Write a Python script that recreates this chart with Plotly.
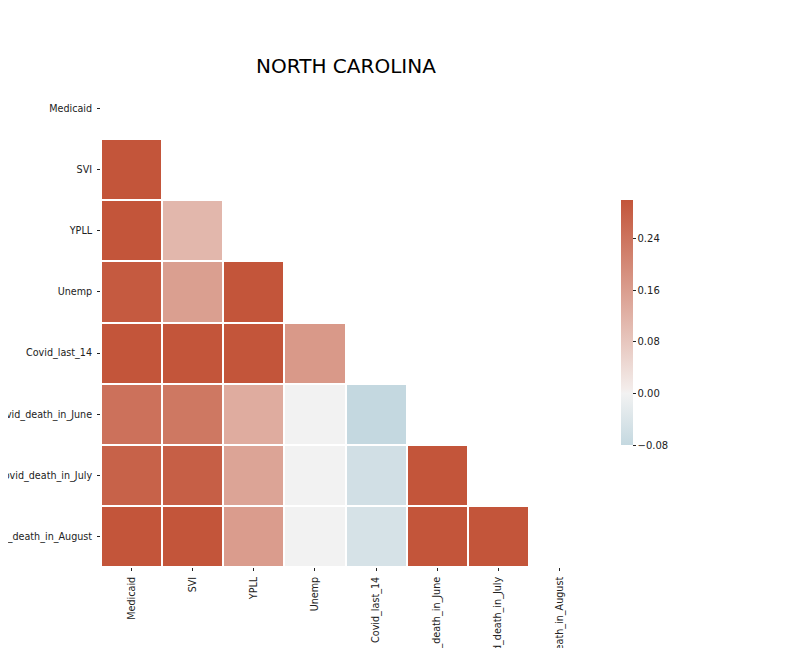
import plotly.graph_objects as go

labels = ["Medicaid", "SVI", "YPLL", "Unemp", "Covid_last_14",
          "Covid_death_in_June", "Covid_death_in_July", "Covid_death_in_August"]

# Lower-triangle correlation values (diagonal and upper triangle masked)
row_medicaid = []
row_svi = [0.55]
row_ypll = [0.45, 0.11]
row_unemp = [0.29, 0.157, 0.35]
row_covid14 = [0.40, 0.40, 0.35, 0.168]
row_june = [0.246, 0.233, 0.132, 0.0, -0.08]
row_july = [0.275, 0.28, 0.147, 0.0, -0.058, 0.60]
row_august = [0.32, 0.32, 0.162, 0.0, -0.049, 0.70, 0.85]

rows = [row_medicaid, row_svi, row_ypll, row_unemp, row_covid14,
        row_june, row_july, row_august]

n = len(labels)
z = [r + [None] * (n - len(r)) for r in rows]

cb_ticks = [-0.08, 0.0, 0.08, 0.16, 0.24]

zmin, zmax = -0.08, 0.30
mid = (0 - zmin) / (zmax - zmin)
colorscale = [
    [0.0, "rgb(196,216,224)"],
    [mid, "rgb(242,242,242)"],
    [mid + 0.02, "rgb(243,236,234)"],
    [1.0, "rgb(195,85,58)"],
]

fig = go.Figure(go.Heatmap(
    z=z, x=labels, y=labels,
    zmin=zmin, zmax=zmax,
    colorscale=colorscale,
    xgap=2, ygap=2,
    hoverongaps=False,
    colorbar=dict(
        x=(613 - 93) / 489, xanchor="left", xpad=0,
        y=0.5, yanchor="middle", ypad=0,
        len=245, lenmode="pixels",
        thickness=12,
        outlinewidth=0,
        ticks="outside", ticklen=3, tickcolor="#222",
        tickvals=cb_ticks, tickformat=".2f",
        tickfont=dict(family="DejaVu Sans", size=10, color="#222"),
    ),
))

fig.update_layout(
    width=792, height=648,
    margin=dict(l=93, r=210, t=70, b=89),
    paper_bgcolor="white", plot_bgcolor="white",
    title=dict(text="NORTH CAROLINA", x=0.501, xref="paper", xanchor="center",
               y=1 - 58 / 648, yref="container", yanchor="middle",
               font=dict(family="DejaVu Sans", size=20, color="black")),
    font=dict(family="DejaVu Sans", size=10, color="#222"),
    xaxis=dict(showgrid=False, zeroline=False, showline=False,
               ticks="outside", ticklen=3, tickcolor="#222",
               tickangle=-90, automargin=False, ticklabelstandoff=2,
               tickfont=dict(size=9.6, color="#222")),
    yaxis=dict(showgrid=False, zeroline=False, showline=False,
               ticks="outside", ticklen=3, tickcolor="#222",
               autorange="reversed", automargin=False, ticklabelstandoff=3,
               tickfont=dict(size=9.6, color="#222")),
)

fig.write_html("out.html")
